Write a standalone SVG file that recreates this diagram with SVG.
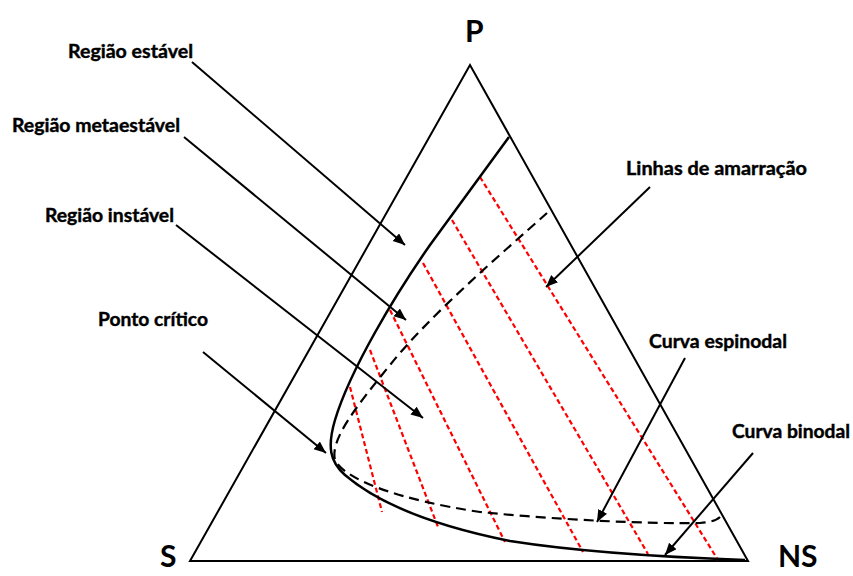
<svg xmlns="http://www.w3.org/2000/svg" width="853" height="576" viewBox="0 0 853 576">
<defs>
<marker id="ah" markerUnits="userSpaceOnUse" markerWidth="14" markerHeight="12" refX="12" refY="5" orient="auto">
<path d="M0,0 L12,5 L0,10 Z" fill="#000"/>
</marker>
<style>
.lbl{font-family:Lato,"Liberation Sans",sans-serif;font-weight:bold;font-size:18px;fill:#000;stroke:#000;stroke-width:0.4}
.big{font-family:Lato,"Liberation Sans",sans-serif;font-weight:bold;font-size:30px;fill:#000}
.edge{fill:none;stroke:#000;stroke-width:2}
.tie{fill:none;stroke:#ff0000;stroke-width:2.2;stroke-dasharray:5 3}
.arr{fill:none;stroke:#000;stroke-width:2;marker-end:url(#ah)}
</style>
</defs>
<rect width="853" height="576" fill="#fff"/>
<g id="triangle">
<path class="edge" d="M470,65 L190,561 L748,561 Z"/>
</g>
<g id="tie-lines">
<line class="tie" x1="350" y1="387" x2="382" y2="512"/>
<line class="tie" x1="370" y1="350" x2="438" y2="527"/>
<line class="tie" x1="390" y1="310" x2="505" y2="542"/>
<line class="tie" x1="423" y1="263" x2="583" y2="552"/>
<line class="tie" x1="452" y1="220" x2="648" y2="554"/>
<line class="tie" x1="480" y1="177" x2="718" y2="560"/>
</g>
<g id="binodal">
<path fill="none" stroke="#000" stroke-width="2.5" d="M509,137 L430,245 C395,295 350,370 335,420 C327,447 330,462 345,475 C380,505 440,527 510,541 C580,552 660,557 745,560"/>
</g>
<g id="spinodal">
<path fill="none" stroke="#000" stroke-width="2.2" stroke-dasharray="10 6" d="M547,213 C500,255 430,315 390,365 C355,408 330,440 335,460 C345,480 400,500 480,512 C560,520 650,524 700,523 Q715,522 720,517"/>
</g>
<g id="connectors">
<line class="arr" x1="192" y1="62" x2="405" y2="245"/>
<line class="arr" x1="184" y1="137" x2="406" y2="320"/>
<line class="arr" x1="176" y1="225" x2="423" y2="418"/>
<line class="arr" x1="203" y1="352" x2="326" y2="453"/>
<line class="arr" x1="650" y1="187" x2="546" y2="287"/>
<line class="arr" x1="685" y1="358" x2="597" y2="522"/>
<line class="arr" x1="753" y1="453" x2="665" y2="555"/>
</g>
<g id="vertex-P"><text class="big" x="465" y="42">P</text></g>
<g id="vertex-S"><text class="big" x="160" y="567">S</text></g>
<g id="vertex-NS"><text class="big" x="778" y="567">NS</text></g>
<g id="label-estavel"><text class="lbl" x="68" y="58" textLength="125" lengthAdjust="spacingAndGlyphs">Região estável</text></g>
<g id="label-metaestavel"><text class="lbl" x="12" y="132" textLength="168" lengthAdjust="spacingAndGlyphs">Região metaestável</text></g>
<g id="label-instavel"><text class="lbl" x="45" y="222" textLength="129" lengthAdjust="spacingAndGlyphs">Região instável</text></g>
<g id="label-critico"><text class="lbl" x="98" y="326" textLength="110" lengthAdjust="spacingAndGlyphs">Ponto crítico</text></g>
<g id="label-linhas"><text class="lbl" x="626" y="175" textLength="181" lengthAdjust="spacingAndGlyphs">Linhas de amarração</text></g>
<g id="label-espinodal"><text class="lbl" x="649" y="348" textLength="138" lengthAdjust="spacingAndGlyphs">Curva espinodal</text></g>
<g id="label-binodal"><text class="lbl" x="732" y="438" textLength="118" lengthAdjust="spacingAndGlyphs">Curva binodal</text></g>
</svg>
